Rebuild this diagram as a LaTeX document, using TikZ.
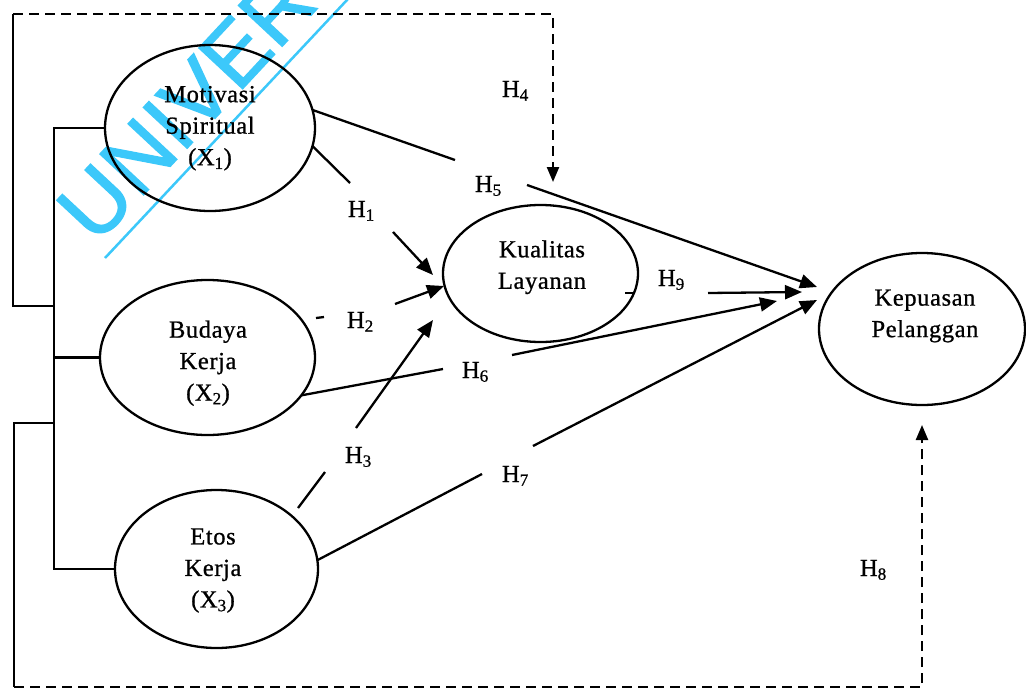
\documentclass[tikz,border=0pt]{standalone}
\usepackage{fontspec}
\setmainfont{Liberation Serif}[FakeBold=0.8]
\newfontfamily\spacedserif{Liberation Serif}[LetterSpace=2.5,FakeBold=0.8]
\newfontfamily\wmsans{Liberation Sans}[FakeBold=1.5]
\usetikzlibrary{arrows.meta,shapes.geometric}
\definecolor{wmcyan}{RGB}{60,200,250}
\begin{document}
\begin{tikzpicture}[x=1pt,y=-1pt,
  every node/.style={inner sep=0pt, outer sep=0pt},
  latent/.style={draw, ellipse, line width=2.3pt, inner sep=0pt},
  lbl/.style={font=\spacedserif\fontsize{24.5}{31.5}\selectfont, align=center},
  hyp/.style={font=\fontsize{24.5}{28}\selectfont, anchor=base west},
  link/.style={line width=2.3pt},
  arr/.style={link, -{Triangle[length=17pt,width=14pt]}},
  dsh/.style={line width=2.3pt, dash pattern=on 10pt off 6pt},
  darr/.style={dsh, -{Triangle[length=15pt,width=12pt]}},
]
% canvas
\useasboundingbox (0,0) rectangle (1026,688);
\fill[white] (0,0) rectangle (1026,688);

% watermark
\begin{scope}
  \clip (0,0) rectangle (1026,688);
  \node[rotate=47, anchor=base west, text=wmcyan,
        font=\wmsans\fontsize{87}{87}\selectfont] (wm) at (96,246) {UNIVERS};
  \coordinate (wmA) at (105,258);
  \coordinate (wmB) at (362,-16);
  \draw[wmcyan, line width=2.5pt] (wmA) -- (wmB);
\end{scope}

% latent variables
\node[latent, minimum width=210pt, minimum height=166pt] (mot) at (210,128) {};
\node[latent, minimum width=215pt, minimum height=155pt] (bud) at (207.5,357.5) {};
\node[latent, minimum width=203pt, minimum height=158pt] (eto) at (216.5,569) {};
\node[latent, minimum width=195pt, minimum height=137pt] (kua) at (540.5,273.5) {};
\node[latent, minimum width=206pt, minimum height=152pt] (kep) at (922,329) {};

\node[lbl] (motT) at (210,128.2) {Motivasi\\Spiritual\\(X\textsubscript{1})};
\node[lbl] (budT) at (208,363.2) {Budaya\\Kerja\\(X\textsubscript{2})};
\node[lbl] (etoT) at (213,570.5) {Etos\\Kerja\\(X\textsubscript{3})};
\node[lbl] (kuaT) at (542,267.2) {Kualitas\\Layanan};
\node[lbl] (kepT) at (925,316) {Kepuasan\\Pelanggan};

% outer frame, upper part (H4)
\coordinate (fTL) at (13,14);
\coordinate (fL) at (13,306);
\coordinate (fJ) at (54,306);
\coordinate (fTR) at (553,14);
\coordinate (h4tip) at (553,182);
\draw[link] (fTL) -- (fL) -- (fJ);
\draw[darr] (fTL) -- (fTR) -- (h4tip);

% inner bracket joining the three exogenous variables
\coordinate (bTop) at (54,128);
\coordinate (bBot) at (54,569);
\draw[link] (mot.west) -- (bTop) -- (bBot) -- (eto.west);
\draw[link] (bud.west) -- (bud.west -| bTop);

% outer frame, lower part (H8)
\coordinate (gJ) at (54,423);
\coordinate (gL) at (14,423);
\coordinate (gB) at (14,687);
\coordinate (gR) at (922,687);
\coordinate (h8tip) at (922,425);
\draw[link] (gJ) -- (gL) -- (gB);
\draw[darr] (gB) -- (gR) -- (h8tip);

% H1
\coordinate (h1a) at (350,183);
\coordinate (h1b) at (393,232);
\coordinate (h1tip) at (433,275);
\draw[link] (mot.-10) -- (h1a);
\draw[arr] (h1b) -- (h1tip);

% H2
\coordinate (h2m1) at (316,318);
\coordinate (h2m2) at (324,317);
\coordinate (h2b) at (395,304);
\coordinate (h2tip) at (444,286);
\draw[link] (h2m1) -- (h2m2);
\draw[arr] (h2b) -- (h2tip);

% H3
\coordinate (h3s) at (298,508);
\coordinate (h3a) at (325,472);
\coordinate (h3b) at (356,428);
\coordinate (h3tip) at (433,320);
\draw[link] (h3s) -- (h3a);
\draw[arr] (h3b) -- (h3tip);

% H5
\coordinate (h5a) at (455,160);
\coordinate (h5b) at (527,185);
\coordinate (h5tip) at (817,287);
\draw[link] (mot.10) -- (h5a);
\draw[arr] (h5b) -- (h5tip);

% H6
\coordinate (h6a) at (443,369);
\coordinate (h6b) at (512,355);
\coordinate (h6tip) at (777,301);
\draw[link] (bud.-22) -- (h6a);
\draw[arr] (h6b) -- (h6tip);

% H7
\coordinate (h7a) at (482,474);
\coordinate (h7b) at (533,446);
\coordinate (h7tip) at (817,300);
\draw[link] (eto.5) -- (h7a);
\draw[arr] (h7b) -- (h7tip);

% H9
\coordinate (k9a) at (625,293);
\coordinate (k9b) at (635,293);
\coordinate (h9b) at (708,293);
\coordinate (h9tip) at (802,292);
\draw[link] (k9a) -- (k9b);
\draw[arr] (h9b) -- (h9tip);

% hypothesis labels
\node[hyp] (H1) at (348,217) {H\textsubscript{1}};
\node[hyp] (H2) at (347,328) {H\textsubscript{2}};
\node[hyp] (H3) at (345,463) {H\textsubscript{3}};
\node[hyp] (H4) at (502,97) {H\textsubscript{4}};
\node[hyp] (H5) at (475,192) {H\textsubscript{5}};
\node[hyp] (H6) at (462,378) {H\textsubscript{6}};
\node[hyp] (H7) at (502,482) {H\textsubscript{7}};
\node[hyp] (H8) at (860,576) {H\textsubscript{8}};
\node[hyp] (H9) at (658,286) {H\textsubscript{9}};
\end{tikzpicture}
\end{document}
